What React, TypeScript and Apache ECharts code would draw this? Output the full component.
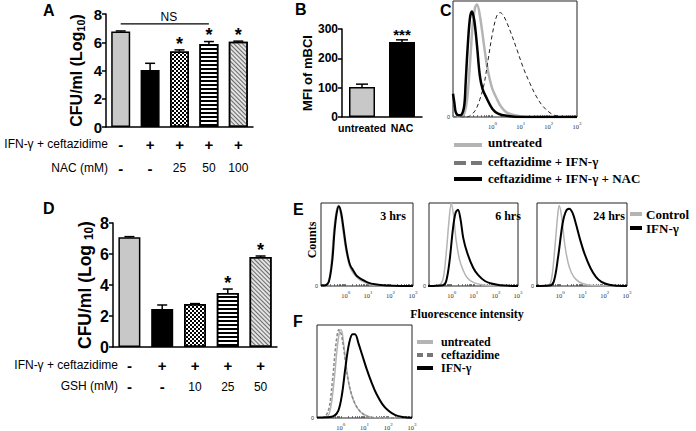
import React, { useEffect, useRef } from "react";
import * as echarts from "echarts";

// ---------- data ----------
const groupsA = ["ctrl", "ifn", "nac25", "nac50", "nac100"];
const rowIfnA = ["-", "+", "+", "+", "+"];
const rowNacA = ["-", "-", "25", "50", "100"];
const meansA = [6.76, 4.04, 5.34, 5.87, 6.03];
const errA = [0.04, 0.47, 0.12, 0.18, 0.05];
const starsA = ["", "", "*", "*", "*"];
const nsSpanA = [0, 3];
const nsLevelA = 7.3;

const catsB = ["untreated", "NAC"];
const meansB = [102, 256];
const errB = [10, 7];
const starsB = ["", "***"];

const groupsD = ["ctrl", "ifn", "gsh10", "gsh25", "gsh50"];
const rowIfnD = ["-", "+", "+", "+", "+"];
const rowGshD = ["-", "-", "10", "25", "50"];
const meansD = [7.08, 2.45, 2.77, 3.48, 5.8];
const errD = [0.04, 0.26, 0.03, 0.26, 0.07];
const starsD = ["", "", "", "*", "*"];

const decadeLabels = [0, 1, 2, 3];

// panel C histograms: [log10 intensity, % of peak scale]
const cUntreated = [[-1.4, 0], [-1.1, 0.5], [-1.0, 3], [-0.9, 15], [-0.8, 45], [-0.7, 80], [-0.62, 94], [-0.55, 97], [-0.45, 88], [-0.3, 62], [-0.2, 45], [-0.1, 33], [0, 24], [0.15, 16], [0.3, 9], [0.5, 4], [0.8, 1.5], [1.2, 0.3], [2, 0], [3, 0]];
const cIfnCef = [[-1.4, 0], [-0.9, 0], [-0.75, 2], [-0.6, 6], [-0.45, 15], [-0.3, 28], [-0.15, 50], [0, 72], [0.15, 87], [0.27, 90], [0.4, 87], [0.6, 76], [0.87, 58], [1.1, 42], [1.33, 29], [1.55, 18], [1.8, 9], [2.15, 2], [2.5, 0.5], [3, 0]];
const cIfnCefNac = [[-1.4, 20], [-1.35, 12], [-1.3, 4], [-1.2, 1.5], [-1.1, 2], [-1.0, 10], [-0.95, 30], [-0.88, 60], [-0.8, 85], [-0.73, 91], [-0.65, 84], [-0.55, 62], [-0.45, 36], [-0.35, 24], [-0.2, 16], [0, 7], [0.2, 3], [0.5, 1], [1, 0], [3, 0]];

// panel E histograms
const e3Control = [[-1.1, 0.3], [-0.9, 1], [-0.75, 7], [-0.62, 35], [-0.52, 70], [-0.42, 90], [-0.33, 97], [-0.22, 86], [-0.12, 66], [0, 45], [0.1, 32], [0.2, 22], [0.35, 15], [0.6, 8], [0.9, 4], [1.3, 1], [2, 0], [3, 0]];
const e3Ifn = [[-1.1, 0.5], [-0.9, 1], [-0.75, 5], [-0.6, 30], [-0.5, 65], [-0.4, 88], [-0.3, 96], [-0.2, 88], [-0.1, 70], [0, 50], [0.1, 35], [0.2, 25], [0.33, 19], [0.5, 12], [0.78, 7], [1.0, 4], [1.3, 2], [1.8, 0.5], [2.5, 0], [3, 0]];
const e6Control = [[-1.1, 0], [-0.6, 1], [-0.4, 8], [-0.25, 40], [-0.12, 80], [-0.02, 100], [0.08, 85], [0.2, 55], [0.35, 32], [0.5, 20], [0.7, 10], [1.0, 4], [1.5, 1], [2, 0], [3, 0]];
const e6Ifn = [[-1.1, 0], [-0.4, 1], [-0.25, 6], [-0.1, 30], [0.05, 68], [0.17, 88], [0.28, 92], [0.4, 80], [0.52, 58], [0.7, 40], [0.97, 22], [1.2, 13], [1.5, 6], [1.8, 3], [2.2, 1], [3, 0]];
const e24Control = [[-1.1, 0], [-0.55, 1], [-0.4, 8], [-0.25, 45], [-0.12, 85], [-0.05, 97], [0.05, 85], [0.2, 50], [0.35, 28], [0.5, 16], [0.7, 8], [1.0, 3], [1.5, 0.5], [3, 0]];
const e24Ifn = [[-1.1, 0], [-0.5, 0.5], [-0.3, 5], [-0.1, 35], [0.1, 75], [0.25, 90], [0.4, 93], [0.55, 88], [0.7, 75], [0.9, 55], [1.1, 38], [1.35, 22], [1.6, 11], [1.85, 5], [2.2, 1.5], [2.6, 0.3], [3, 0]];

// panel F histograms
const fUntreated = [[-1, 0], [-0.6, 1], [-0.45, 8], [-0.3, 35], [-0.15, 75], [-0.05, 93], [0.02, 95], [0.12, 80], [0.25, 52], [0.4, 30], [0.6, 15], [0.85, 6], [1.2, 1.5], [1.8, 0], [3, 0]];
const fCef = [[-1, 0], [-0.7, 1], [-0.5, 10], [-0.35, 40], [-0.2, 80], [-0.08, 95], [0.02, 90], [0.15, 70], [0.3, 42], [0.5, 22], [0.75, 9], [1.1, 2], [1.6, 0], [3, 0]];
const fIfn = [[-1, 0.5], [-0.6, 0.8], [-0.3, 2], [-0.1, 8], [0.05, 25], [0.2, 55], [0.35, 80], [0.5, 90], [0.6, 90], [0.75, 80], [0.9, 68], [1.1, 52], [1.3, 38], [1.5, 26], [1.75, 15], [2.0, 8], [2.3, 3], [2.6, 1], [3, 0.3]];

// ---------- styles ----------
const SANS = '"Liberation Sans", Arial, sans-serif';
const SERIF = '"Liberation Serif", "Times New Roman", serif';
const GRAY_LINE = "#b4b4b4";

const barFills = [
  { color: "#c8c8c8" },
  { color: "#000" },
  { color: "#fff", decal: { symbol: "rect", symbolSize: 1, color: "#000", dashArrayX: [[2, 2], [0, 2, 2, 0]], dashArrayY: [2, 0], rotation: 0 } },
  { color: "#fff", decal: { symbol: "rect", symbolSize: 1, color: "#000", dashArrayX: [1, 0], dashArrayY: [1.3, 2], rotation: 0 } },
  { color: "#e2e2e2", decal: { symbol: "rect", symbolSize: 1, color: "#6a6a6a", dashArrayX: [1, 0], dashArrayY: [1, 1.6], rotation: Math.PI / 4 } },
];

const minorTicks: number[] = [];
for (let d = -2; d <= 3; d++) {
  for (let k = 1; k <= 9; k++) minorTicks.push(d + Math.log10(k));
}

function flowX(gridIndex: number, min: number, max: number) {
  return {
    type: "value", gridIndex, min, max,
    axisLine: { show: false }, splitLine: { show: false },
    axisTick: { show: true, inside: true, length: 2, customValues: minorTicks.filter((v) => v > min && v < max), lineStyle: { color: "#444", width: 0.7 } },
    axisLabel: {
      show: true, customValues: decadeLabels, margin: 4,
      formatter: (v: number) => `{b|10}{s|${v}}`,
      rich: { b: { fontSize: 6.5, color: "#333", fontFamily: SERIF }, s: { fontSize: 5, color: "#333", fontFamily: SERIF, padding: [0, 0, 6, 0] } },
    },
  };
}
function flowY(gridIndex: number) {
  return {
    type: "value", gridIndex, min: 0, max: 100,
    axisLine: { show: false }, splitLine: { show: false }, axisTick: { show: false },
    axisLabel: { show: true, customValues: [0], formatter: () => "0", fontSize: 5.5, color: "#333", margin: 3 },
  };
}
function flowLine(name: string, idx: number, data: number[][], color: string, width: number, type: any = "solid") {
  return {
    name, type: "line", xAxisIndex: idx, yAxisIndex: idx, data, symbol: "none", smooth: 0.35,
    lineStyle: { color, width, type }, z: color === "#000" ? 3 : 2,
  };
}

function catLabel(rows: string[][]) {
  return (v: string, i: number) =>
    rows.map((r) => (r[i] === "-" || r[i] === "+" ? `{p|${r[i]}}` : `{n|${r[i]}}`)).join("\n");
}

function errSeries(idx: number, means: number[], errs: number[], stars: string[], cap: number, starSize: number) {
  return {
    type: "custom", xAxisIndex: idx, yAxisIndex: idx, z: 5,
    data: means.map((m, i) => [i, m, m + errs[i]]),
    renderItem: (params: any, api: any) => {
      const i = api.value(0);
      const b = api.coord([i, api.value(1)]);
      const t = api.coord([i, api.value(2)]);
      const s = stars[params.dataIndex];
      const children: any[] = [
        { type: "line", shape: { x1: b[0], y1: b[1], x2: t[0], y2: t[1] }, style: { stroke: "#000", lineWidth: 1.5 } },
        { type: "line", shape: { x1: t[0] - cap, y1: t[1], x2: t[0] + cap, y2: t[1] }, style: { stroke: "#000", lineWidth: 1.5 } },
      ];
      if (s) children.push({ type: "text", x: t[0], y: t[1] + starSize * 0.15, style: { text: s, font: `bold ${starSize}px ${SANS}`, fill: "#000", align: "center", verticalAlign: "bottom", textAlign: "center", textVerticalAlign: "bottom" } });
      return { type: "group", children };
    },
  };
}

function txt(text: string, x: number, y: number, font: string, align = "left", rotation = 0, fill = "#000") {
  return { type: "text", x, y, rotation, style: { text, font, fill, align, verticalAlign: "middle", textAlign: align, textVerticalAlign: "middle" } };
}
function seg(x1: number, y1: number, x2: number, y2: number, stroke: string, lineWidth: number, lineDash?: number[]) {
  return { type: "line", shape: { x1, y1, x2, y2 }, style: { stroke, lineWidth, lineDash } };
}

const barAxisY = (idx: number, max: number, interval: number, fontSize: number, name: string, nameGap: number, nameSize: number) => ({
  type: "value", gridIndex: idx, min: 0, max, interval,
  axisLine: { show: true, lineStyle: { color: "#000", width: 1.5 } },
  axisTick: { show: true, length: 4, lineStyle: { color: "#000", width: 1.5 } },
  splitLine: { show: false },
  axisLabel: { fontFamily: SANS, fontWeight: "bold", fontSize, color: "#000", margin: 4 },
  name, nameLocation: "middle", nameRotate: 90, nameGap,
  nameTextStyle: {
    rich: {
      a: { fontFamily: SANS, fontWeight: "bold", fontSize: nameSize, color: "#000" },
      s: { fontFamily: SANS, fontWeight: "bold", fontSize: nameSize * 0.68, color: "#000", verticalAlign: "bottom", padding: [nameSize * 0.45, 0, 0, 0] },
    },
  },
});

export default function App() {
  const ref = useRef<HTMLDivElement>(null);
  useEffect(() => {
    if (!ref.current) return;
    const chart = echarts.init(ref.current, undefined, { renderer: "svg" });
    const flowGrid = (left: number, top: number, width: number, height: number) => ({ left, top, width, height, show: true, borderColor: "#222", borderWidth: 1, backgroundColor: "transparent" });
    const option: any = {
      animation: false,
      textStyle: { fontFamily: SANS },
      grid: [
        { left: 106, top: 14, width: 147, height: 113 },
        { left: 342, top: 29, width: 80, height: 88 },
        flowGrid(453, 1, 124, 116),
        { left: 113, top: 223, width: 164, height: 124 },
        flowGrid(321, 203, 92, 83),
        flowGrid(429, 203, 89, 83),
        flowGrid(537, 203, 90, 83),
        flowGrid(317, 325, 95, 94),
      ],
      xAxis: [
        {
          type: "category", gridIndex: 0, data: groupsA,
          axisLine: { lineStyle: { color: "#000", width: 1.5 } },
          axisTick: { alignWithLabel: true, length: 4, lineStyle: { color: "#000", width: 1.5 } },
          axisLabel: { interval: 0, margin: 5, formatter: catLabel([rowIfnA, rowNacA]), rich: { p: { fontFamily: SANS, fontWeight: "bold", fontSize: 15, lineHeight: 24, color: "#000" }, n: { fontFamily: SANS, fontSize: 12, lineHeight: 24, color: "#000" } } },
        },
        {
          type: "category", gridIndex: 1, data: catsB,
          axisLine: { lineStyle: { color: "#000", width: 1.5 } }, axisTick: { show: false },
          axisLabel: { interval: 0, margin: 5, fontFamily: SANS, fontWeight: "bold", fontSize: 10.5, color: "#000" },
        },
        flowX(2, -1.4, 3),
        {
          type: "category", gridIndex: 3, data: groupsD,
          axisLine: { lineStyle: { color: "#000", width: 1.5 } },
          axisTick: { alignWithLabel: true, length: 5, lineStyle: { color: "#000", width: 1.5 } },
          axisLabel: { interval: 0, margin: 8, formatter: catLabel([rowIfnD, rowGshD]), rich: { p: { fontFamily: SANS, fontWeight: "bold", fontSize: 15, lineHeight: 21, color: "#000" }, n: { fontFamily: SANS, fontSize: 12, lineHeight: 21, color: "#000" } } },
        },
        flowX(4, -1.1, 3),
        flowX(5, -1.03, 3),
        flowX(6, -1.05, 3),
        flowX(7, -1, 3),
      ],
      yAxis: [
        barAxisY(0, 8, 2, 15, "{a|CFU/ml (Log}{s|10}{a|)}", 20, 16),
        barAxisY(1, 300, 100, 12, "{a|MFI of mBCI}", 25, 13),
        flowY(2),
        barAxisY(3, 8, 2, 16, "{a|CFU/ml (Log }{s|10}{a|)}", 18, 17.5),
        flowY(4), flowY(5), flowY(6), flowY(7),
      ],
      series: [
        { type: "bar", xAxisIndex: 0, yAxisIndex: 0, barWidth: 19, data: meansA.map((v, i) => ({ value: v, itemStyle: { ...barFills[i], borderColor: "#000", borderWidth: 1.5 } })) },
        errSeries(0, meansA, errA, starsA, 5, 18),
        {
          type: "custom", xAxisIndex: 0, yAxisIndex: 0, z: 5, data: [[nsSpanA[0], nsSpanA[1], nsLevelA]],
          renderItem: (_p: any, api: any) => {
            const a = api.coord([api.value(0), api.value(2)]);
            const b = api.coord([api.value(1), api.value(2)]);
            return { type: "group", children: [
              { type: "line", shape: { x1: a[0], y1: a[1], x2: b[0], y2: b[1] }, style: { stroke: "#000", lineWidth: 1.3 } },
              { type: "text", x: (a[0] + b[0]) / 2 + 4, y: a[1] - 7, style: { text: "NS", font: `12px ${SANS}`, fill: "#000", align: "center", verticalAlign: "middle", textAlign: "center", textVerticalAlign: "middle" } },
            ] };
          },
        },
        { type: "bar", xAxisIndex: 1, yAxisIndex: 1, barWidth: 26, data: meansB.map((v, i) => ({ value: v, itemStyle: { ...barFills[i], borderColor: "#000", borderWidth: 1.5 } })) },
        errSeries(1, meansB, errB, starsB, 6, 15),
        flowLine("untreated", 2, cUntreated, GRAY_LINE, 2.5),
        flowLine("ceftazidime + IFN-γ", 2, cIfnCef, "#222", 1, [4, 3]),
        flowLine("ceftazidime + IFN-γ + NAC", 2, cIfnCefNac, "#000", 2.5),
        { type: "bar", xAxisIndex: 3, yAxisIndex: 3, barWidth: 22, data: meansD.map((v, i) => ({ value: v, itemStyle: { ...barFills[i], borderColor: "#000", borderWidth: 1.5 } })) },
        errSeries(3, meansD, errD, starsD, 5, 18),
        flowLine("Control 3h", 4, e3Control, GRAY_LINE, 1.5),
        flowLine("IFN 3h", 4, e3Ifn, "#000", 2),
        flowLine("Control 6h", 5, e6Control, GRAY_LINE, 1.5),
        flowLine("IFN 6h", 5, e6Ifn, "#000", 2),
        flowLine("Control 24h", 6, e24Control, GRAY_LINE, 1.5),
        flowLine("IFN 24h", 6, e24Ifn, "#000", 2),
        flowLine("untreated F", 7, fUntreated, GRAY_LINE, 1.5),
        flowLine("ceftazidime F", 7, fCef, "#888", 1.5, [3, 2]),
        flowLine("IFN F", 7, fIfn, "#000", 2),
      ],
      graphic: [
        txt("A", 43, 10, `bold 16px ${SANS}`),
        txt("B", 295, 9, `bold 16px ${SANS}`),
        txt("C", 440, 10, `bold 16px ${SANS}`),
        txt("D", 43, 208, `bold 16px ${SANS}`),
        txt("E", 293, 209, `bold 16px ${SANS}`),
        txt("F", 293, 321, `bold 16px ${SANS}`),
        txt("IFN-γ + ceftazidime", 108, 144, `12px ${SANS}`, "right"),
        txt("NAC (mM)", 108, 168, `12px ${SANS}`, "right"),
        txt("IFN-γ + ceftazidime", 118, 365, `12px ${SANS}`, "right"),
        txt("GSH (mM)", 118, 386, `12px ${SANS}`, "right"),
        seg(454, 145, 482, 145, GRAY_LINE, 4),
        txt("untreated", 488, 142, `bold 13px ${SERIF}`),
        seg(454, 163, 482, 163, "#777", 4, [12, 5]),
        txt("ceftazidime + IFN-γ", 488, 161, `bold 13px ${SERIF}`),
        seg(454, 179, 482, 179, "#000", 4),
        txt("ceftazidime + IFN-γ + NAC", 488, 178, `bold 13px ${SERIF}`),
        txt("3 hrs", 393, 216, `bold 12px ${SERIF}`, "center"),
        txt("6 hrs", 508, 216, `bold 12px ${SERIF}`, "center"),
        txt("24 hrs", 609, 216, `bold 12px ${SERIF}`, "center"),
        txt("Counts", 312, 240, `bold 12px ${SERIF}`, "center", Math.PI / 2),
        txt("Fluorescence intensity", 467, 314, `bold 12px ${SERIF}`, "center"),
        seg(630, 214, 642, 214, GRAY_LINE, 4),
        txt("Control", 646, 214, `bold 13px ${SERIF}`),
        seg(630, 228, 642, 228, "#000", 4),
        txt("IFN-γ", 646, 228, `bold 13px ${SERIF}`),
        seg(417, 342, 433, 342, GRAY_LINE, 4),
        txt("untreated", 441, 342, `bold 12px ${SERIF}`),
        seg(417, 355, 433, 355, "#777", 4, [6, 4]),
        txt("ceftazidime", 441, 355, `bold 12px ${SERIF}`),
        seg(417, 368, 433, 368, "#000", 4),
        txt("IFN-γ", 441, 368, `bold 12px ${SERIF}`),
      ],
    };
    chart.setOption(option);
    return () => chart.dispose();
  }, []);
  return <div ref={ref} style={{ position: "absolute", left: 0, top: 0, width: 696, height: 431, background: "#fff" }} />;
}
